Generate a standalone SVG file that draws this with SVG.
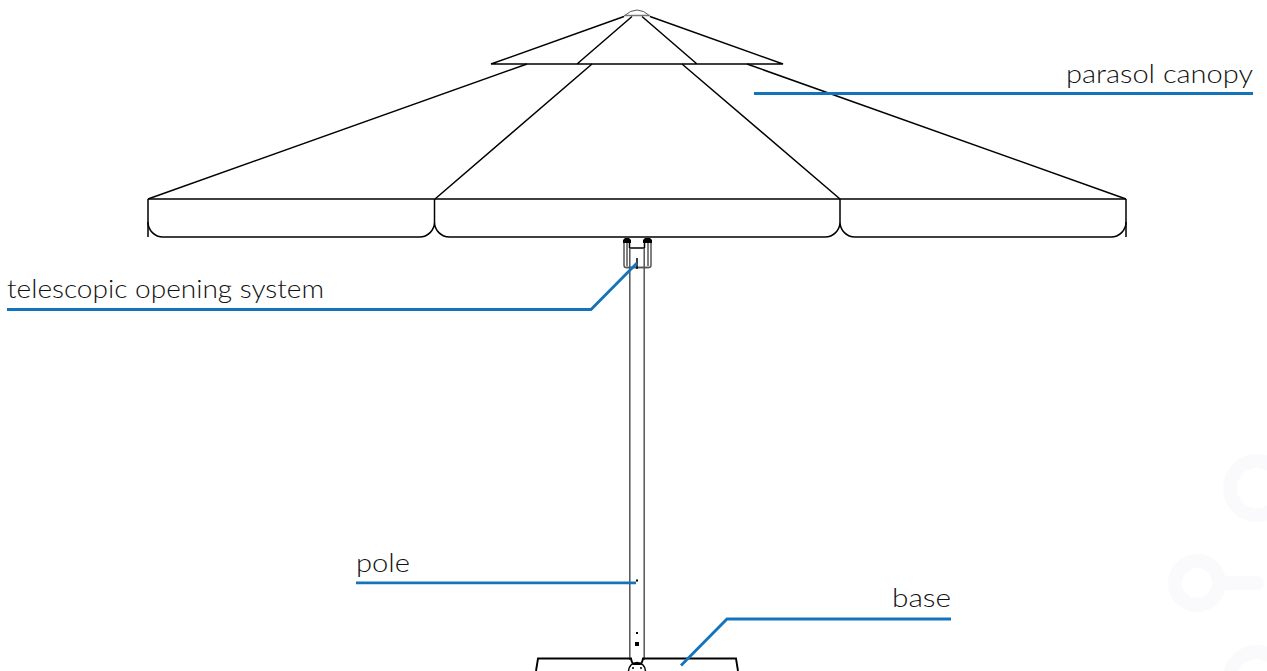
<svg xmlns="http://www.w3.org/2000/svg" width="1267" height="671" viewBox="0 0 1267 671">
<style>
.l{fill:none;stroke:#000;stroke-width:1.500}
.g{fill:none;stroke:#555;stroke-width:1.500}
.k{fill:#000}
.c{fill:none;stroke:#1474bb;stroke-width:2.800}
.t{font-family:"Lato","Liberation Sans",sans-serif;font-weight:300;font-size:25.5px;fill:#111}
.w{fill:none;stroke:#fafafc}
</style>
<rect width="1267" height="671" fill="#fff"/>
<g id="watermark">
<circle class="w" cx="1257" cy="488" r="27" stroke-width="14"/>
<circle class="w" cx="1197" cy="583" r="22" stroke-width="14"/>
<path class="w" d="M1226 583H1257" stroke-width="14" stroke-linecap="round"/>
<circle class="w" cx="1257" cy="679" r="27" stroke-width="14"/>
</g>
<g id="canopy">
<path class="l" d="M624 16.500L491 64H783L650 16.500M632 16.500L577 64M642 16.500L697 64"/>
<path d="M624 16Q637 4 650 16" fill="none" stroke="#555" stroke-width="1"/>
<path d="M624 15.500H650" stroke="#777" stroke-width="1.500"/>
<path class="l" d="M527 64L148 199M592 64L435 199M682 64L840 199M747 64L1126 199"/>
<path class="l" d="M148 199H1126M148 199V237M1126 199V237M434.500 199V222M840 199V222"/>
<path class="l" d="M148 222A15 15 0 0 0 163 237H419.500A15 15 0 0 0 434.500 222A15 15 0 0 0 449.500 237H825A15 15 0 0 0 840 222A15 15 0 0 0 855 237H1111A15 15 0 0 0 1126 222"/>
</g>
<g id="telescopic-system">
<path class="k" d="M623 243V240L625 238H629L631 240V243ZM643 243V240L645 238H650L652 240V243Z"/>
<path class="g" d="M624 243V265Q624 267.500 626 267.500H649Q651 267.500 651 265V243M627 243V266M648 243V266"/>
<path class="l" d="M629.500 248H644.500M629.500 248V243M644.500 248V243"/>
<path class="g" d="M626 267.500H649" stroke-width="2.500"/>
<path class="l" d="M637 258V269" stroke-width="1.500"/>
</g>
<g id="pole">
<path class="g" d="M629.800 248V660M644.200 248V660"/>
<rect class="k" x="636" y="579.500" width="2" height="2"/>
<rect class="k" x="636" y="632" width="2" height="2"/>
<rect class="k" x="635" y="642" width="4" height="4"/>
</g>
<g id="base">
<path d="M536 671L538 658.500H631Q632 664 634 664H640Q642 664 643 658.500H736L738 671" fill="none" stroke="#000" stroke-width="1.900"/>
<circle cx="637" cy="671" r="8.500" fill="none" stroke="#000" stroke-width="1.500"/>
<circle class="k" cx="633" cy="668" r="1"/>
<circle class="k" cx="641" cy="668" r="1"/>
</g>
<g id="connectors">
<path class="c" d="M754 93.500H1253"/>
<path class="c" d="M7 309.500H591L637 263"/>
<path class="c" d="M356 582.800H636"/>
<path class="c" d="M681 665.500L727 619H951"/>
</g>
<g id="labels">
<text class="t" x="1066" y="83" textLength="187" lengthAdjust="spacingAndGlyphs">parasol canopy</text>
<text class="t" x="7" y="298" textLength="317" lengthAdjust="spacingAndGlyphs">telescopic opening system</text>
<text class="t" x="356" y="572" textLength="54" lengthAdjust="spacingAndGlyphs">pole</text>
<text class="t" x="892" y="607" textLength="59" lengthAdjust="spacingAndGlyphs">base</text>
</g>
</svg>
